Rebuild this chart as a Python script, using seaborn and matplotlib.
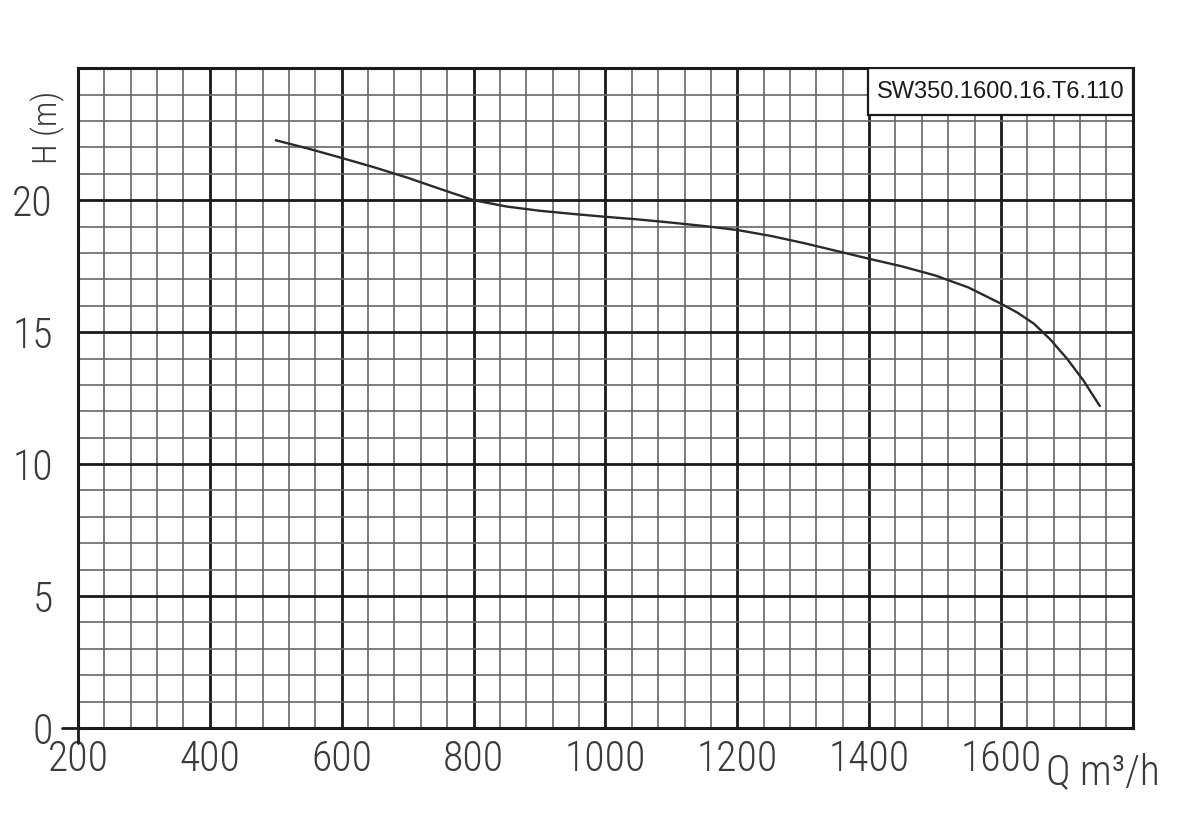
import numpy as np
import pandas as pd
import matplotlib
matplotlib.use('Agg')
import matplotlib.pyplot as plt
import seaborn as sns
from matplotlib.ticker import MultipleLocator
from matplotlib.patches import Rectangle

# Pump curve (Q in m3/h, H in m)
flow = [500, 550, 600, 650, 700, 750, 800, 850, 900, 950, 1000, 1050, 1100,
        1150, 1200, 1250, 1300, 1350, 1400, 1450, 1500, 1550, 1600, 1625,
        1650, 1675, 1700, 1725, 1750]
head = [22.27, 21.95, 21.6, 21.24, 20.85, 20.42, 20.0, 19.76, 19.6, 19.48,
        19.37, 19.27, 19.15, 19.02, 18.87, 18.65, 18.38, 18.08, 17.78, 17.49,
        17.15, 16.7, 16.08, 15.74, 15.32, 14.72, 14.0, 13.17, 12.2]

x_ticks = [200, 400, 600, 800, 1000, 1200, 1400, 1600]
y_ticks = [0, 5, 10, 15, 20]
model_name = 'SW350.1600.16.T6.110'

df = pd.DataFrame({'Q': flow, 'H': head})

sns.set_style('white')
plt.rcParams['font.family'] = ['Roboto Condensed', 'DejaVu Sans']
plt.rcParams['font.weight'] = 300

fig = plt.figure(figsize=(12, 8.32), dpi=100)
ax = fig.add_axes([0.065, 0.125, 0.879, 0.793])

sns.lineplot(data=df, x='Q', y='H', ax=ax, color='#2a2a2a', linewidth=1.7,
             zorder=5)

ax.set_xlim(200, 1800)
ax.set_ylim(0, 25)
ax.set_xticks(x_ticks)
ax.set_yticks(y_ticks)
ax.xaxis.set_minor_locator(MultipleLocator(40))
ax.yaxis.set_minor_locator(MultipleLocator(1))

ax.grid(which='minor', color='#666666', linewidth=1.2, zorder=1)
ax.grid(which='major', color='#1a1a1a', linewidth=2.0, zorder=2)
ax.set_axisbelow(True)

for s in ax.spines.values():
    s.set_linewidth(2.2)
    s.set_color('#1a1a1a')

ax.tick_params(which='both', length=0)
ax.tick_params(axis='x', pad=8, labelsize=30, labelcolor='#3a3a3a')
ax.tick_params(axis='y', pad=18, labelsize=30, labelcolor='#3a3a3a')
ax.set_xlabel('')
ax.set_ylabel('')

# little cross lines at the origin
ax.axhline(0, xmin=-0.015, xmax=0, color='#1a1a1a', lw=2.0, clip_on=False)
ax.axvline(200, ymin=-0.022, ymax=0, color='#1a1a1a', lw=2.0, clip_on=False)

# axis titles
fig.text(0.040, 0.847, 'H (m)', rotation=90, ha='center', va='center',
         fontsize=24, color='#3a3a3a')
fig.text(0.872, 0.0575, 'Q m³/h', ha='left', va='baseline', fontsize=30,
         color='#3a3a3a')

# model name box
ax.add_patch(Rectangle((0.749, 0.929), 0.251, 0.071, transform=ax.transAxes,
                       facecolor='white', edgecolor='#1a1a1a', lw=1.6,
                       zorder=6))
ax.text(0.8745, 0.9645, model_name, transform=ax.transAxes, ha='center',
        va='center', fontsize=17, fontweight='normal',
        family=['Liberation Sans', 'DejaVu Sans'], color='#1a1a1a', zorder=7)

fig.savefig('out.png', dpi=100)
